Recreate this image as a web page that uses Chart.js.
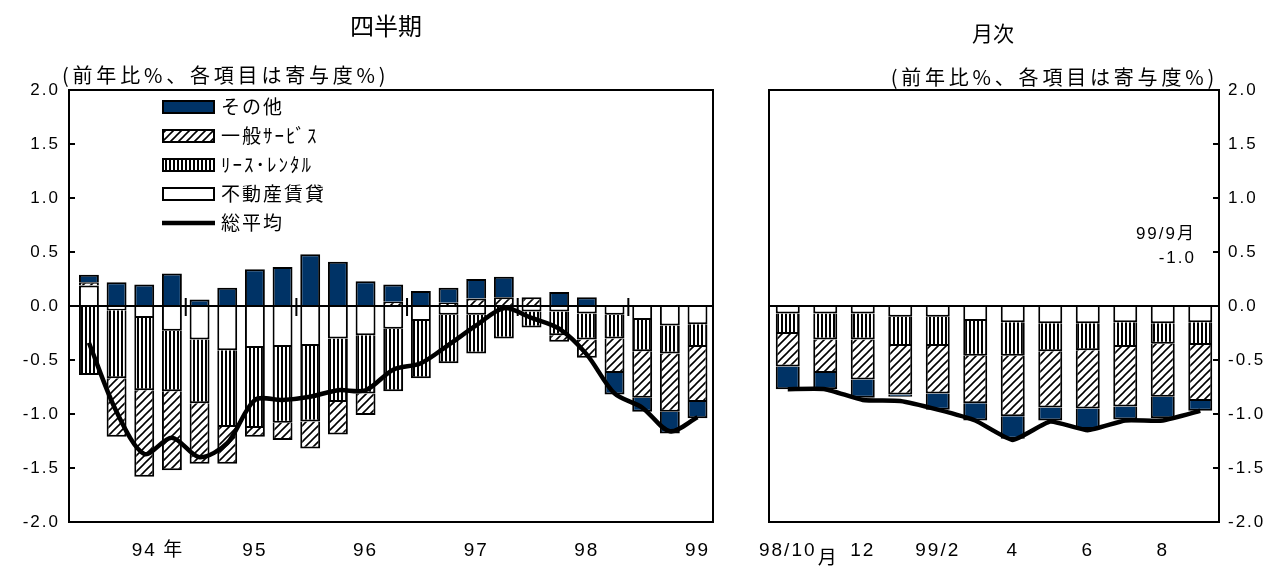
<!DOCTYPE html>
<html lang="ja">
<head>
    <meta charset="UTF-8">
    <title>サービス価格 前年比と寄与度</title>
    <script src="https://cdn.jsdelivr.net/npm/chart.js"></script>
    <style>
        body { margin: 0; background: #fff; }
        #wrap { position: relative; width: 1288px; height: 576px; overflow: hidden;
                font-family: "Noto Sans CJK JP", sans-serif; color: #000; }
        #wrap canvas { position: absolute; top: 0; }
        .txt { position: absolute; white-space: nowrap; line-height: 1; }
        .unit { font-size: 20px; letter-spacing: 3.8px; }
        .note { font-size: 17px; font-family: "Liberation Sans", "Noto Sans CJK JP", sans-serif;
                text-align: right; letter-spacing: 2px; }
    </style>
</head>
<body>
<div id="wrap">
    <canvas id="qChart" width="740" height="576" style="left:0"></canvas>
    <canvas id="mChart" width="548" height="576" style="left:740px"></canvas>
    <div class="txt" style="left:336px; top:13px; width:100px; text-align:center; font-size:24px">四半期</div>
    <div class="txt" style="left:943px; top:22px; width:100px; text-align:center; font-size:21px">月次</div>
    <div class="txt unit" style="left:62px; top:65px">(前年比%、各項目は寄与度%)</div>
    <div class="txt unit" style="right:70px; top:67px">(前年比%、各項目は寄与度%)</div>
    <div class="txt note" style="right:92px; top:225px">99/9月</div>
    <div class="txt note" style="right:92px; top:249px">-1.0</div>
</div>
<script>
// quarterly, 94Q1 .. 99Q3
const quarterLabels = ['', '', '94', '', '', '', '95', '', '', '', '96', '', '', '', '97', '', '', '', '98', '', '', '', '99'];
const qRealEstate = [0.19, -0.04, -0.11, -0.23, -0.31, -0.41, -0.39, -0.38, -0.37, -0.30, -0.27, -0.21, -0.14, -0.08, -0.08, 0, -0.05, -0.05, -0.07, -0.08, -0.13, -0.18, -0.17];
const qLease = [-0.64, -0.63, -0.67, -0.56, -0.59, -0.71, -0.74, -0.70, -0.70, -0.59, -0.54, -0.58, -0.53, -0.45, -0.36, -0.30, -0.15, -0.22, -0.24, -0.22, -0.29, -0.26, -0.21];
const qGeneral = [0.03, -0.54, -0.80, -0.73, -0.56, -0.34, -0.08, -0.16, -0.25, -0.30, -0.20, 0.04, 0, 0.03, 0.07, 0.08, 0.08, -0.06, -0.17, -0.32, -0.43, -0.54, -0.51];
const qOther = [0.07, 0.22, 0.20, 0.30, 0.06, 0.17, 0.34, 0.36, 0.48, 0.41, 0.23, 0.16, 0.14, 0.14, 0.18, 0.19, 0, 0.13, 0.08, -0.20, -0.13, -0.20, -0.15];
const qTotal = [-0.34, -0.98, -1.37, -1.22, -1.40, -1.27, -0.87, -0.87, -0.84, -0.78, -0.78, -0.59, -0.53, -0.36, -0.18, -0.02, -0.11, -0.21, -0.45, -0.81, -0.94, -1.16, -1.03];
const yearBreaks = [3.5, 7.5, 11.5, 15.5, 19.5];

// monthly, 98/10 .. 99/9
const monthLabels = ['98/10', '', '12', '', '99/2', '', '4', '', '6', '', '8', ''];
const mRealEstate = [-0.07, -0.07, -0.07, -0.10, -0.10, -0.14, -0.15, -0.16, -0.16, -0.15, -0.16, -0.15];
const mLease = [-0.19, -0.24, -0.24, -0.27, -0.27, -0.32, -0.31, -0.26, -0.25, -0.23, -0.19, -0.21];
const mGeneral = [-0.30, -0.31, -0.37, -0.45, -0.44, -0.44, -0.56, -0.52, -0.54, -0.55, -0.49, -0.52];
const mOther = [-0.21, -0.15, -0.17, -0.02, -0.15, -0.16, -0.21, -0.12, -0.19, -0.12, -0.20, -0.09];
const mTotal = [-0.77, -0.77, -0.87, -0.88, -0.96, -1.06, -1.24, -1.07, -1.15, -1.06, -1.06, -0.97];

const yTicks = [-2, -1.5, -1, -0.5, 0, 0.5, 1, 1.5, 2];
const navy = '#003366';

function makeHatch() {
    const c = document.createElement('canvas');
    c.width = 8; c.height = 8;
    const x = c.getContext('2d');
    x.fillStyle = '#fff'; x.fillRect(0, 0, 8, 8);
    x.strokeStyle = '#000'; x.lineWidth = 1.6;
    x.beginPath();
    x.moveTo(0, 8); x.lineTo(8, 0);
    x.moveTo(-2, 2); x.lineTo(2, -2);
    x.moveTo(6, 10); x.lineTo(10, 6);
    x.stroke();
    return x.createPattern(c, 'repeat');
}
function makeStripes() {
    const c = document.createElement('canvas');
    c.width = 4; c.height = 4;
    const x = c.getContext('2d');
    x.fillStyle = '#fff'; x.fillRect(0, 0, 4, 4);
    x.fillStyle = '#000'; x.fillRect(1, 0, 2, 4);
    return x.createPattern(c, 'repeat');
}
const hatch = makeHatch();
const stripes = makeStripes();

const numFont = { family: '"Liberation Sans", sans-serif', size: 17 };
const xFont = { family: '"Liberation Sans", sans-serif', size: 19 };

function barSet(label, data, fill, pct, xy) {
    return {
        type: 'bar', label: label, order: 1, stack: 'a',
        data: xy ? data.map((v, i) => ({ x: i, y: v })) : data,
        backgroundColor: fill, borderColor: '#000', borderWidth: 2,
        categoryPercentage: 1, barPercentage: pct
    };
}
function lineSet(data, tension, xy) {
    return {
        type: 'line', label: '総平均', order: 0, stack: 'line',
        data: xy ? data.map((v, i) => ({ x: i, y: v })) : data,
        borderColor: '#000', borderWidth: 4.5, pointRadius: 0,
        tension: tension, fill: false
    };
}
function yAxis(pos) {
    return {
        position: pos, stacked: true, min: -2, max: 2,
        afterBuildTicks: s => { s.ticks = yTicks.map(v => ({ value: v })); },
        ticks: { callback: v => v.toFixed(1), color: '#000', font: numFont, padding: 9 },
        grid: {
            drawTicks: false, lineWidth: 2,
            color: c => (c.tick && c.tick.value === 0) ? '#000' : 'rgba(0,0,0,0)'
        },
        border: { display: true, color: '#000', width: 2 },
        afterFit: s => { s.width = 69; }
    };
}

function drawFrame(chart, axisSide) {
    const ctx = chart.ctx, a = chart.chartArea, y = chart.scales.y;
    ctx.save();
    ctx.strokeStyle = '#000';
    ctx.lineWidth = 2;
    ctx.strokeRect(a.left, a.top, a.right - a.left, a.bottom - a.top);
    ctx.beginPath();
    yTicks.forEach(v => {
        const py = y.getPixelForValue(v);
        if (axisSide === 'left') { ctx.moveTo(a.left, py); ctx.lineTo(a.left + 6, py); }
        else { ctx.moveTo(a.right - 6, py); ctx.lineTo(a.right, py); }
    });
    ctx.stroke();
    ctx.restore();
}

const spacing = {
    id: 'spacing',
    beforeDraw(chart) { chart.ctx.letterSpacing = '2px'; },
    afterDraw(chart) { chart.ctx.letterSpacing = '0px'; }
};

const quarterDecor = {
    id: 'quarterDecor',
    afterDraw(chart) {
        const ctx = chart.ctx, x = chart.scales.x, y = chart.scales.y;
        drawFrame(chart, 'left');
        const y0 = y.getPixelForValue(0);
        ctx.save();
        ctx.strokeStyle = '#000';
        ctx.lineWidth = 2;
        ctx.beginPath();
        yearBreaks.forEach(b => {
            const px = x.getPixelForValue(b);
            ctx.moveTo(px, y0 - 8); ctx.lineTo(px, y0 + 10);
        });
        ctx.stroke();

        // legend
        const items = [
            { label: 'その他', fill: navy },
            { label: '一般ｻｰﾋﾞｽ', fill: hatch },
            { label: 'ﾘｰｽ･ﾚﾝﾀﾙ', fill: stripes },
            { label: '不動産賃貸', fill: '#fff' },
            { label: '総平均', line: true }
        ];
        const lx = 162, lw = 53;
        ctx.font = '19px "Noto Sans CJK JP", sans-serif';
        ctx.textBaseline = 'middle';
        ctx.textAlign = 'left';
        ctx.fillStyle = '#000';
        items.forEach((it, i) => {
            const cy = 107 + i * 29;
            if (it.line) {
                ctx.lineWidth = 4.5;
                ctx.beginPath(); ctx.moveTo(lx, cy); ctx.lineTo(lx + lw, cy); ctx.stroke();
            } else {
                ctx.fillStyle = it.fill;
                ctx.fillRect(lx, cy - 7, lw, 14);
                ctx.lineWidth = 2;
                ctx.strokeRect(lx + 1, cy - 6, lw - 2, 12);
            }
            ctx.fillStyle = '#000';
            ctx.letterSpacing = '2px';
            ctx.fillText(it.label, lx + lw + 6, cy);
        });

        // 年 after the first year label
        ctx.font = '19px "Noto Sans CJK JP", sans-serif';
        ctx.letterSpacing = '0px';
        ctx.fillText('年', x.getPixelForValue(2) + 19, 549);
        ctx.restore();
    }
};

const monthDecor = {
    id: 'monthDecor',
    afterDraw(chart) {
        const ctx = chart.ctx, x = chart.scales.x;
        drawFrame(chart, 'right');
        ctx.save();
        ctx.font = '19px "Noto Sans CJK JP", sans-serif';
        ctx.fillStyle = '#000';
        ctx.textBaseline = 'middle';
        ctx.letterSpacing = '0px';
        ctx.fillText('月', x.getPixelForValue(0) + 30, 557);
        ctx.restore();
    }
};

new Chart(document.getElementById('qChart'), {
    data: {
        datasets: [
            barSet('不動産賃貸', qRealEstate, '#fff', 0.72, true),
            barSet('ﾘｰｽ･ﾚﾝﾀﾙ', qLease, stripes, 0.72, true),
            barSet('一般ｻｰﾋﾞｽ', qGeneral, hatch, 0.72, true),
            barSet('その他', qOther, navy, 0.72, true),
            lineSet(qTotal, 0.3, true)
        ]
    },
    options: {
        responsive: false,
        animation: false,
        layout: { padding: { top: 90, right: 27, left: 0, bottom: 0 } },
        plugins: { legend: { display: false }, tooltip: { enabled: false } },
        scales: {
            x: {
                type: 'linear', stacked: true, offset: false, min: -0.72, max: 22.56,
                afterBuildTicks: s => {
                    s.ticks = quarterLabels.map((l, i) => ({ value: i, label: l })).filter(t => t.label);
                },
                ticks: { autoSkip: false, maxRotation: 0, color: '#000', font: xFont, padding: 17,
                         callback: v => quarterLabels[v] },
                grid: { display: false, drawTicks: false },
                border: { display: false },
                afterFit: s => { s.height = 54; }
            },
            y: yAxis('left')
        }
    },
    plugins: [spacing, quarterDecor]
});

new Chart(document.getElementById('mChart'), {
    data: {
        labels: monthLabels,
        datasets: [
            barSet('不動産賃貸', mRealEstate, '#fff', 0.64, false),
            barSet('ﾘｰｽ･ﾚﾝﾀﾙ', mLease, stripes, 0.64, false),
            barSet('一般ｻｰﾋﾞｽ', mGeneral, hatch, 0.64, false),
            barSet('その他', mOther, navy, 0.64, false),
            lineSet(mTotal, 0.15, false)
        ]
    },
    options: {
        responsive: false,
        animation: false,
        layout: { padding: { top: 90, right: 0, left: 29, bottom: 0 } },
        plugins: { legend: { display: false }, tooltip: { enabled: false } },
        scales: {
            x: {
                type: 'category', stacked: true,
                ticks: { autoSkip: false, maxRotation: 0, color: '#000', font: xFont, padding: 17 },
                grid: { display: false, drawTicks: false },
                border: { display: false },
                afterFit: s => { s.height = 54; }
            },
            y: yAxis('right')
        }
    },
    plugins: [spacing, monthDecor]
});
</script>
</body>
</html>
